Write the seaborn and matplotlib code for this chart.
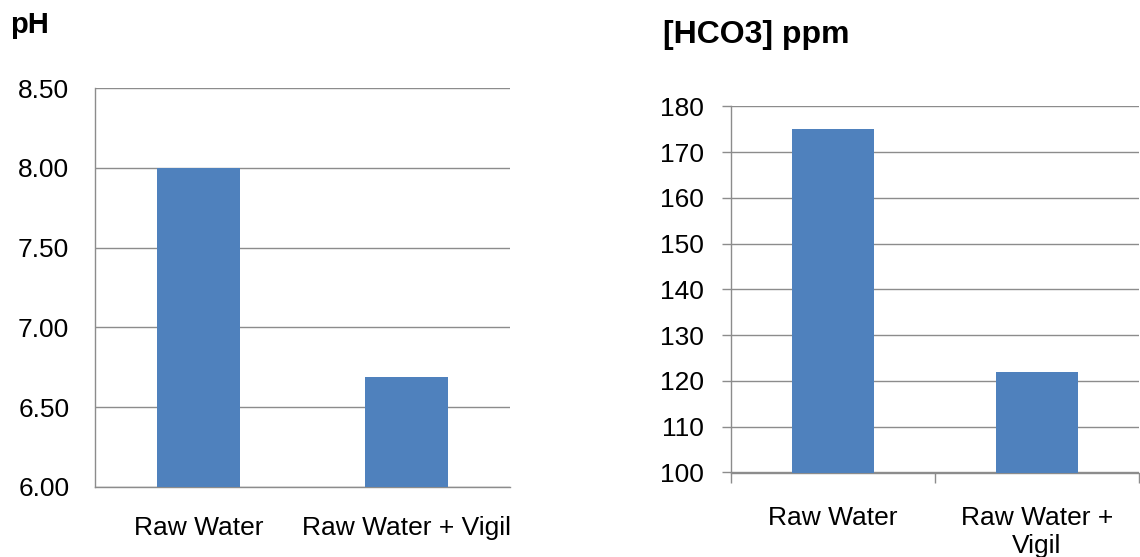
import matplotlib
matplotlib.use("Agg")
import matplotlib.pyplot as plt
import seaborn as sns
import pandas as pd
from matplotlib.ticker import FixedLocator

# ---- data ----
ph_categories = ["Raw Water", "Raw Water + Vigil"]
ph_values = [8.00, 6.69]
ph_ticks = [6.00, 6.50, 7.00, 7.50, 8.00, 8.50]

hco3_categories = ["Raw Water", "Raw Water +\nVigil"]
hco3_values = [175, 122]
hco3_ticks = [100, 110, 120, 130, 140, 150, 160, 170, 180]

ph_title = "pH"
hco3_title = "[HCO3] ppm"

BAR = "#4F81BD"
GRID = "#8C8C8C"

sns.set_style("white")
plt.rcParams["font.family"] = ["Liberation Sans", "DejaVu Sans"]
plt.rcParams["text.color"] = "black"

fig = plt.figure(figsize=(11.4, 5.57), dpi=100)
ax1 = fig.add_axes([95/1140, 1-487/557, (510-95)/1140, (487-88)/557])
ax2 = fig.add_axes([731/1140, 1-472.5/557, (1139-731)/1140, (472.5-106.4)/557])

df1 = pd.DataFrame({"cat": ph_categories, "val": ph_values})
df2 = pd.DataFrame({"cat": hco3_categories, "val": hco3_values})

sns.barplot(data=df1, x="cat", y="val", color=BAR, saturation=1, width=0.4,
            linewidth=0, ax=ax1, zorder=3)
sns.barplot(data=df2, x="cat", y="val", color=BAR, saturation=1, width=0.4,
            linewidth=0, ax=ax2, zorder=3)

for ax, ticks in ((ax1, ph_ticks), (ax2, hco3_ticks)):
    ax.set_ylim(ticks[0], ticks[-1])
    ax.set_xlim(-0.5, 1.5)
    ax.set_yticks(ticks)
    ax.yaxis.grid(True, color=GRID, linewidth=1.0, zorder=0)
    ax.set_axisbelow(True)
    ax.set_xlabel("")
    ax.set_ylabel("")
    for s in ("top", "right"):
        ax.spines[s].set_visible(False)
    ax.spines["left"].set_color(GRID)
    ax.spines["left"].set_linewidth(1.0)
    ax.spines["bottom"].set_color(GRID)
    ax.spines["bottom"].set_linewidth(1.0)
    ax.tick_params(axis="both", labelsize=19, labelcolor="black")

# left chart: no tick marks
ax1.set_yticklabels([f"{t:.2f}" for t in ph_ticks])
ax1.tick_params(axis="y", left=False, length=0, pad=18.5)
ax1.tick_params(axis="x", bottom=False, length=0, pad=21)

# right chart: outward tick marks
ax2.set_yticklabels([f"{t:d}" for t in hco3_ticks])
ax2.tick_params(axis="y", left=True, length=6.5, width=1, color=GRID, pad=13, direction="out")
ax2.tick_params(axis="x", which="major", bottom=False, length=0, pad=24)
ax2.xaxis.set_minor_locator(FixedLocator([-0.5, 0.5, 1.5]))
ax2.tick_params(axis="x", which="minor", bottom=True, length=7.2, width=1, color=GRID, direction="out")

fig.text(10/1140, 1-33/557, ph_title, fontsize=21, fontweight="bold", va="baseline", ha="left", color="black")
fig.text(663/1140, 1-42.5/557, hco3_title, fontsize=23, fontweight="bold", va="baseline", ha="left", color="black")

fig.savefig("out.png", dpi=100, facecolor="white")
